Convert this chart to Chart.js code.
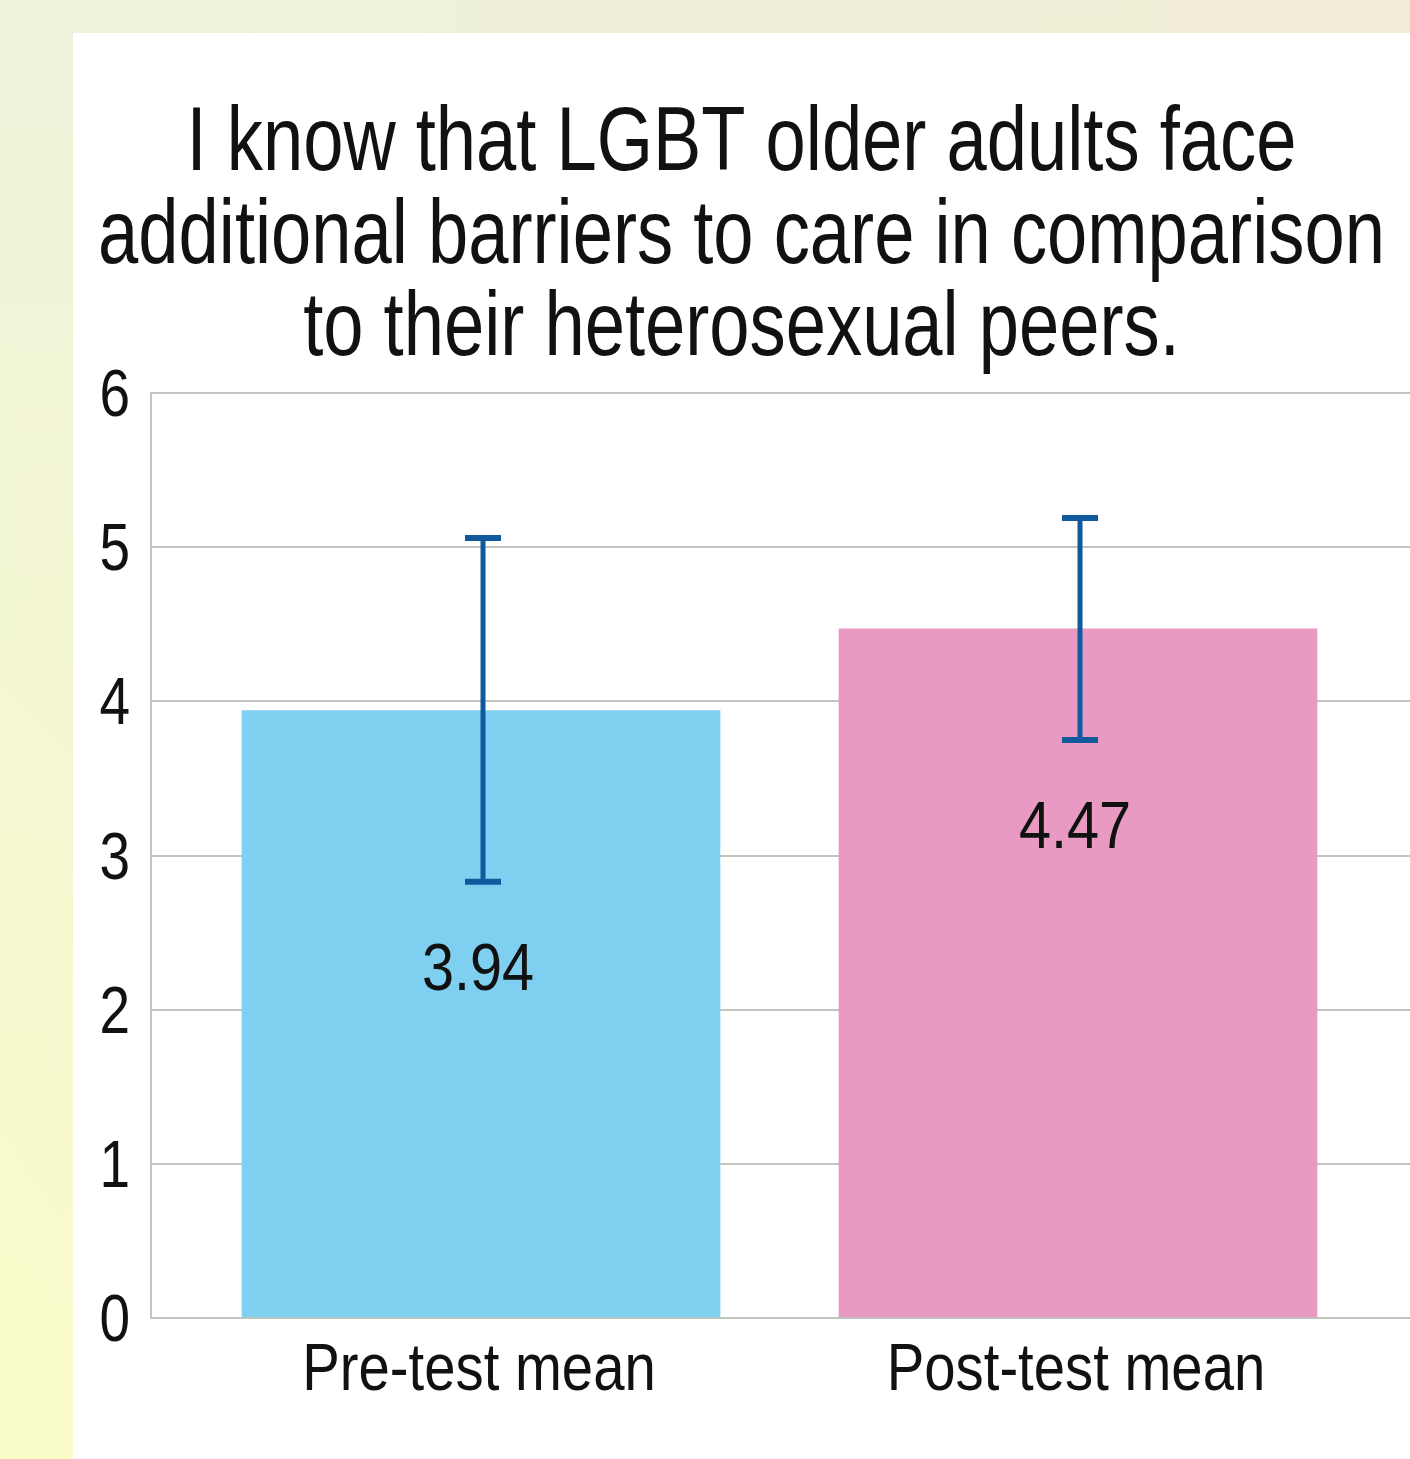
<!DOCTYPE html>
<html>
<head>
<meta charset="utf-8">
<script src="https://cdn.jsdelivr.net/npm/chart.js@4.4.0/dist/chart.umd.min.js"></script>
<style>
  html, body { margin: 0; padding: 0; }
  body {
    width: 1410px; height: 1459px; overflow: hidden; position: relative;
    background: linear-gradient(to right, rgba(242,237,214,0) 0%, #f2edd6 100%),
                linear-gradient(to bottom, #eef2da 0%, #fafcc8 100%);
  }
  #panel { position: absolute; left: 73px; top: 33px; width: 1337px; height: 1426px; background: #fff; }
  #wrap { position: absolute; left: 73px; top: 33px; width: 1337px; height: 1426px; }
</style>
</head>
<body>
<div id="panel"></div>
<div id="wrap"><canvas id="myChart" width="1337" height="1426"></canvas></div>
<script>
var titleLines = ['I know that LGBT older adults face', 'additional barriers to care in comparison', 'to their heterosexual peers.'];
var categories = ['Pre-test mean', 'Post-test mean'];
var means = [3.94, 4.47];
var errLow = [2.83, 3.75];
var errHigh = [5.06, 5.19];
var barColors = ['#7fd0f0', '#e89ac2'];
var yTicks = [0, 1, 2, 3, 4, 5, 6];

var fontFamily = '"Liberation Sans", Arial, sans-serif';
var textColor = '#111';
var gridColor = '#bec6bd';
var errColor = '#10599d';

// condensed text: draw with a horizontal squeeze (no narrow font installed)
function drawText(ctx, text, x, y, size, sx, align) {
    ctx.save();
    ctx.font = size + 'px ' + fontFamily;
    ctx.fillStyle = textColor;
    ctx.textAlign = align;
    ctx.textBaseline = 'alphabetic';
    ctx.translate(x, y);
    ctx.scale(sx, 1);
    ctx.fillText(text, 0, 0);
    ctx.restore();
}

var textPlugin = {
    id: 'texts',
    afterDraw: function(chart) {
        var ctx = chart.ctx;
        var xs = chart.scales.x;
        var ys = chart.scales.y;
        var cx = chart.width / 2;

        // title
        for (var i = 0; i < titleLines.length; i++) {
            drawText(ctx, titleLines[i], cx, 137 + i * 92.5, 91, 0.795, 'center');
        }
        // y tick labels
        for (var j = 0; j < yTicks.length; j++) {
            drawText(ctx, String(yTicks[j]), xs.left - 21, ys.getPixelForValue(yTicks[j]) + 23, 67, 0.82, 'right');
        }
        // x tick labels
        for (var k = 0; k < categories.length; k++) {
            drawText(ctx, categories[k], xs.getPixelForValue(k) - 2, ys.bottom + 72, 67, 0.84, 'center');
        }
    }
};

// error bars + value labels
var errorBarPlugin = {
    id: 'errorBars',
    afterDatasetsDraw: function(chart) {
        var ctx = chart.ctx;
        var xs = chart.scales.x;
        var ys = chart.scales.y;
        ctx.save();
        for (var i = 0; i < means.length; i++) {
            var x = xs.getPixelForValue(i) + 2;
            var yHi = ys.getPixelForValue(errHigh[i]);
            var yLo = ys.getPixelForValue(errLow[i]);
            ctx.strokeStyle = errColor;
            ctx.lineWidth = 5;
            ctx.beginPath();
            ctx.moveTo(x, yHi);
            ctx.lineTo(x, yLo);
            ctx.stroke();
            ctx.lineWidth = 6;
            ctx.beginPath();
            ctx.moveTo(x - 18, yHi);
            ctx.lineTo(x + 18, yHi);
            ctx.moveTo(x - 18, yLo);
            ctx.lineTo(x + 18, yLo);
            ctx.stroke();
        }
        ctx.restore();
        for (var k = 0; k < means.length; k++) {
            var lx = xs.getPixelForValue(k) - 3;
            var ly = ys.getPixelForValue(errLow[k]) + 108;
            drawText(ctx, means[k].toFixed(2), lx, ly, 67, 0.86, 'center');
        }
    }
};

var points = [];
for (var i = 0; i < means.length; i++) {
    points.push({ x: i, y: means[i] });
}

var ctx = document.getElementById('myChart');
var myChart = new Chart(ctx, {
    type: 'bar',
    data: {
        datasets: [{
            data: points,
            backgroundColor: barColors,
            borderWidth: 0,
            barThickness: 478
        }]
    },
    options: {
        responsive: false,
        animation: false,
        layout: { padding: { left: 0, right: 0, top: 360, bottom: 0 } },
        plugins: {
            legend: { display: false },
            tooltip: { enabled: false },
            title: { display: false }
        },
        scales: {
            x: {
                type: 'linear',
                offset: false,
                min: -0.5528,
                max: 1.5561,
                grid: { display: false, drawTicks: false },
                border: { display: false },
                afterBuildTicks: function(scale) {
                    scale.ticks = categories.map(function(c, i) { return { value: i }; });
                },
                afterFit: function(scale) { scale.height = 141; },
                ticks: { display: false }
            },
            y: {
                min: 0,
                max: 6,
                afterBuildTicks: function(scale) {
                    scale.ticks = yTicks.map(function(v) { return { value: v }; });
                },
                afterFit: function(scale) { scale.width = 78; },
                grid: { color: gridColor, lineWidth: 2, drawTicks: false },
                border: { display: true, color: gridColor, width: 2 },
                ticks: { display: false }
            }
        }
    },
    plugins: [errorBarPlugin, textPlugin]
});
</script>
</body>
</html>
